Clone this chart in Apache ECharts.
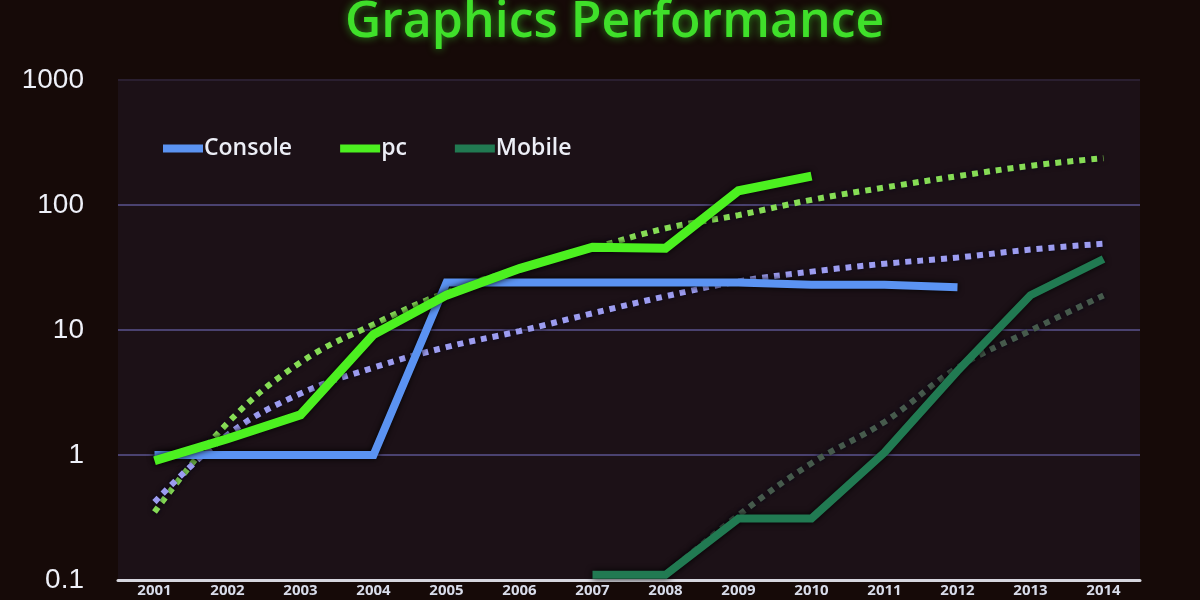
<!DOCTYPE html>
<html>
<head>
<meta charset="utf-8">
<script src="https://cdn.jsdelivr.net/npm/echarts@6/dist/echarts.min.js"></script>
<style>
html,body{margin:0;padding:0;background:#140909;}
#chart{width:1200px;height:600px;}
</style>
</head>
<body>
<div id="chart"></div>
<script>
const years = ['2001','2002','2003','2004','2005','2006','2007','2008','2009','2010','2011','2012','2013','2014'];
const yTicks = [0.1, 1, 10, 100, 1000];
const consoleVals = [1, 1, 1, 1, 24, 24, 24, 24, 24, 23, 23, 22, null, null];
const pcVals = [0.9, 1.35, 2.1, 9.2, 19, 31, 46, 45, 130, 170, null, null, null, null];
const mobileVals = [null, null, null, null, null, null, 0.11, 0.11, 0.31, 0.31, 1.05, 4.7, 19, 37];
const pcTrend = [0.35, 1.8, 5.5, 11.1, 20, 31, 45, 65, 83, 110, 138, 170, 206, 237];
const consoleTrend = [0.42, 1.45, 3.1, 5.0, 7.3, 9.8, 13.6, 18.6, 24.5, 29.3, 33.9, 38, 44, 49];
const mobileTrend = [null, null, null, null, null, null, null, 0.11, 0.33, 0.86, 1.84, 5.0, 9.9, 18.9];

const chart = echarts.init(document.getElementById('chart'));

function dotted(name, data, color) {
  return {
    name: name, type: 'line', data: data, smooth: 0.4, symbol: 'none',
    connectNulls: false, z: 2,
    itemStyle: { color: color },
    lineStyle: { color: color, width: 6, type: [6, 6], cap: 'butt',
      shadowColor: 'rgba(0,0,20,0.95)', shadowBlur: 5 }
  };
}
function solid(name, data, color, w) {
  return {
    name: name, type: 'line', data: data, smooth: false, symbol: 'none', z: 3,
    itemStyle: { color: color },
    lineStyle: { color: color, width: w, join: 'miter',
      shadowColor: 'rgba(0,0,0,0.95)', shadowBlur: 6 }
  };
}

chart.setOption({
  backgroundColor: '#160a08',
  animation: false,
  title: {
    text: 'Graphics Performance', left: 340, top: -7,
    textStyle: { color: '#3fe02a', fontSize: 50, fontWeight: 600, fontFamily: 'Open Sans',
      textShadowColor: 'rgba(60,230,40,0.6)', textShadowBlur: 8 }
  },
  legend: {
    data: ['Console', 'pc', 'Mobile'],
    left: 158, top: 132, itemWidth: 40, itemHeight: 8, itemGap: 48,
    icon: 'rect',
    textStyle: { color: '#eceef6', fontSize: 23, fontWeight: 600, fontFamily: 'Open Sans', padding: [0, 0, 0, -4] }
  },
  grid: { left: 118, right: 60, top: 80, bottom: 20, show: true, backgroundColor: '#1c1117', borderWidth: 0 },
  xAxis: {
    type: 'category', data: years, boundaryGap: true,
    axisLine: { lineStyle: { color: '#d6d6de', width: 3 } },
    axisTick: { show: false },
    axisLabel: { color: '#d8dcea', fontSize: 15, fontWeight: 'bold', fontFamily: 'Open Sans', margin: 3 },
    splitLine: { show: false }
  },
  yAxis: {
    type: 'log', logBase: 10, min: yTicks[0], max: yTicks[yTicks.length - 1],
    axisLine: { show: false }, axisTick: { show: false },
    axisLabel: { color: '#eef0f8', fontSize: 28, fontFamily: 'Liberation Sans', margin: 34,
      formatter: function (v) { return String(v); } },
    splitLine: { show: true, lineStyle: { color: ['#4a4270', '#4a4270', '#4a4270', '#4a4270', '#2a1f30'], width: 2 } }
  },
  series: [
    dotted('pcTrend', pcTrend, '#86dc55'),
    dotted('consoleTrend', consoleTrend, '#9c9cf0'),
    dotted('mobileTrend', mobileTrend, '#465a4c'),
    solid('Console', consoleVals, '#5b93f2', 8),
    solid('pc', pcVals, '#4cf020', 9),
    solid('Mobile', mobileVals, '#217a52', 8)
  ]
});
</script>
</body>
</html>
